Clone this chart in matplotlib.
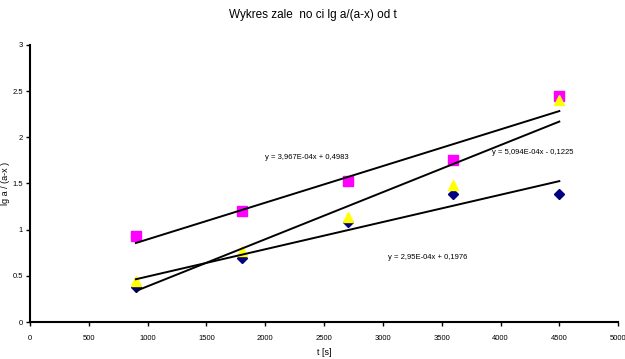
import matplotlib.pyplot as plt
import numpy as np

plt.rcParams['font.family'] = ['Liberation Sans', 'DejaVu Sans']

t = [900, 1800, 2700, 3600, 4500]
lg_square = [0.93, 1.20, 1.53, 1.75, 2.45]
lg_diamond = [0.38, 0.69, 1.08, 1.39, 1.39]
lg_triangle = [0.44, 0.77, 1.14, 1.48, 2.40]

# trend lines as printed on the chart
fit_square = (3.967e-4, 0.4983)
fit_triangle = (5.094e-4, -0.1225)
fit_diamond = (2.95e-4, 0.1976)

eq_square = "y = 3,967E-04x + 0,4983"
eq_triangle = "y = 5,094E-04x - 0,1225"
eq_diamond = "y = 2,95E-04x + 0,1976"

fig = plt.figure(figsize=(6.25, 3.59), dpi=100)
ax = fig.add_axes([0.048, 0.103, 0.941, 0.772])

ax.plot(t, lg_diamond, linestyle='none', marker='D', color='#000080', markersize=5.5, zorder=3)
ax.plot(t, lg_square, linestyle='none', marker='s', color='#ff00ff', markersize=6.5, zorder=3)
ax.plot(t, lg_triangle, linestyle='none', marker='^', color='#ffff00', markersize=6.5, zorder=4)

tx = np.array([t[0], t[-1]])
for a, b in (fit_square, fit_triangle, fit_diamond):
    ax.plot(tx, a * tx + b, color='black', linewidth=1.4, zorder=5)

ax.text(2000, 1.78, eq_square, fontsize=5.5, va='center')
ax.text(3930, 1.83, eq_triangle, fontsize=5.5, va='center')
ax.text(3045, 0.70, eq_diamond, fontsize=5.5, va='center')

ax.set_xlim(0, 5000)
ax.set_ylim(0, 3)
ax.set_xticks(range(0, 5001, 500))
ax.set_yticks([0, 0.5, 1, 1.5, 2, 2.5, 3])
ax.set_yticklabels(['0', '0.5', '1', '1.5', '2', '2.5', '3'])
ax.tick_params(labelsize=5.5, length=3, width=1, pad=2)
ax.tick_params(axis='x', pad=6)
for s in ('top', 'right'):
    ax.spines[s].set_visible(False)
for s in ('left', 'bottom'):
    ax.spines[s].set_linewidth(1.5)

ax.set_xlabel('t [s]', fontsize=6.5, labelpad=5)
fig.text(0.009, 0.49, 'lg a / (a-x )', fontsize=6.5, rotation=90, ha='center', va='center')
fig.text(0.5, 0.975, 'Wykres zale  no ci lg a/(a-x) od t', fontsize=8.5, ha='center', va='top')

fig.savefig('out.png', dpi=100)
